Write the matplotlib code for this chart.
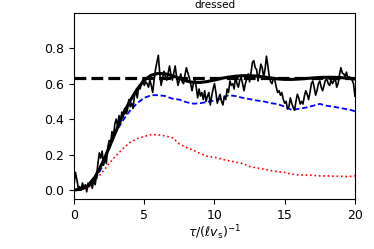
import numpy as np
import matplotlib
matplotlib.use("Agg")
import matplotlib.pyplot as plt

# noisy single-run curve, sampled every 0.1 from 0 to 20
noisy_vals = [
    0.03, 0.10, 0.06, 0.01, 0.02, 0.00, 0.04, 0.01, 0.03, -0.01, 0.04, 0.02, 0.05, 0.01, 0.06, 0.03,
    0.08, 0.15, 0.21, 0.18, 0.22, 0.14, 0.19, 0.15, 0.24, 0.28, 0.26, 0.33, 0.30, 0.37, 0.40,
    0.36, 0.42, 0.38, 0.44, 0.41, 0.46, 0.43, 0.45, 0.51, 0.47, 0.49, 0.46, 0.53, 0.56, 0.52, 0.58,
    0.57, 0.60, 0.62, 0.59, 0.61, 0.60, 0.58, 0.62, 0.59, 0.55, 0.62, 0.68, 0.72, 0.76,
    0.66, 0.59, 0.63, 0.67, 0.64, 0.62, 0.66, 0.70, 0.65, 0.62, 0.66, 0.70, 0.64, 0.59, 0.62, 0.655, 0.61, 0.60, 0.65, 0.69,
    0.66, 0.635, 0.60, 0.56, 0.60, 0.625, 0.58, 0.52, 0.57, 0.53, 0.55, 0.51, 0.56, 0.50, 0.53, 0.55, 0.48, 0.53, 0.57, 0.60,
    0.55, 0.49, 0.52, 0.54, 0.50, 0.48, 0.53, 0.51, 0.57, 0.55, 0.615, 0.59, 0.60, 0.57, 0.645, 0.60, 0.58, 0.62, 0.635, 0.60,
    0.56, 0.60, 0.63, 0.655, 0.61, 0.66, 0.72, 0.73, 0.69, 0.68, 0.615, 0.66, 0.71, 0.69, 0.635, 0.68, 0.755, 0.70, 0.64, 0.61,
    0.60, 0.635, 0.62, 0.58, 0.55, 0.56, 0.535, 0.55, 0.51, 0.49, 0.50, 0.457, 0.47, 0.52, 0.49, 0.466, 0.45, 0.50, 0.54, 0.52,
    0.485, 0.50, 0.485, 0.53, 0.56, 0.54, 0.51, 0.55, 0.60, 0.615, 0.58, 0.535, 0.56, 0.60, 0.615, 0.58, 0.56, 0.59, 0.62, 0.625,
    0.60, 0.59, 0.62, 0.60, 0.615, 0.63, 0.58, 0.60, 0.65, 0.69, 0.66, 0.655, 0.64, 0.665, 0.625, 0.64, 0.63, 0.62, 0.60, 0.53,
]

# smooth curves, sampled every 0.5 from 0 to 20
smooth_vals = [
    0.0, 0.005, 0.025, 0.075, 0.15, 0.24, 0.335, 0.43, 0.505, 0.57, 0.62, 0.648, 0.658, 0.655,
    0.645, 0.63, 0.615, 0.607, 0.607, 0.612, 0.62, 0.63, 0.637, 0.642, 0.645, 0.645, 0.643,
    0.638, 0.632, 0.627, 0.624, 0.624, 0.626, 0.629, 0.632, 0.635, 0.636, 0.636, 0.634, 0.63, 0.626,
]
blue_vals = [
    0.0, 0.005, 0.02, 0.06, 0.13, 0.235, 0.33, 0.395, 0.45, 0.49, 0.52, 0.535, 0.535, 0.53,
    0.515, 0.51, 0.495, 0.487, 0.49, 0.497, 0.505, 0.515, 0.535, 0.53, 0.52, 0.513, 0.505,
    0.50, 0.49, 0.485, 0.47, 0.452, 0.458, 0.465, 0.475, 0.486, 0.475, 0.47, 0.462, 0.455, 0.445,
]
red_vals = [
    0.0, 0.003, 0.015, 0.055, 0.10, 0.15, 0.195, 0.235, 0.27, 0.29, 0.303, 0.313, 0.312, 0.305,
    0.295, 0.26, 0.24, 0.225, 0.205, 0.19, 0.185, 0.175, 0.165, 0.158, 0.15, 0.133, 0.125,
    0.118, 0.11, 0.104, 0.099, 0.09, 0.085, 0.085, 0.083, 0.08, 0.08, 0.078, 0.078, 0.076, 0.08,
]
plateau = 0.63

t_fine = np.linspace(0, 20, len(noisy_vals))
t_coarse = np.linspace(0, 20, len(smooth_vals))

fig = plt.figure(figsize=(3.74, 2.49), dpi=100)
ax = fig.add_axes([0.198, 0.201, 0.751, 0.748])

ax.plot(t_coarse, red_vals, color="red", linestyle=":", lw=1.2)
ax.plot(t_coarse, blue_vals, color="blue", linestyle=(0, (3, 1.5)), lw=1.3)
ax.plot(t_fine, noisy_vals, color="black", lw=1.2)
ax.plot(t_coarse, smooth_vals, color="black", lw=2.2)
ax.axhline(plateau, color="black", linestyle="--", lw=2.3)

ax.set_xlim(0, 20)
ax.set_ylim(-0.05, 1.0)
ax.set_xticks([0, 5, 10, 15, 20])
ax.set_yticks([0.0, 0.2, 0.4, 0.6, 0.8])
ax.tick_params(labelsize=9)
ax.set_xlabel(r"$\tau/(\ell v_{\rm s})^{-1}$", fontsize=9, labelpad=1)
ax.set_title("dressed", fontsize=7.5, pad=3.5)

fig.savefig("out.png", dpi=100)
